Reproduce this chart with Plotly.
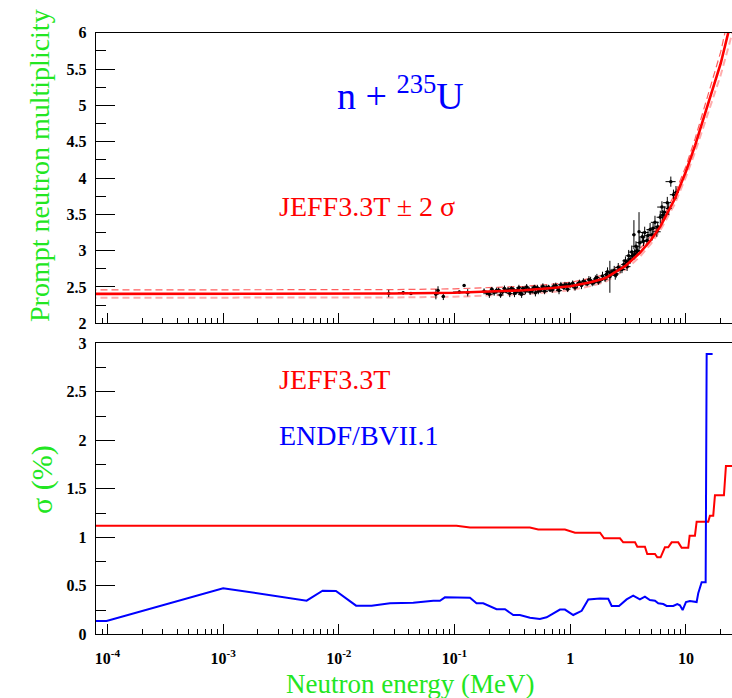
import numpy as np
import plotly.graph_objects as go

# ---------------- data ----------------
# JEFF3.3T prompt neutron multiplicity nu_p(E), E in MeV
nu_energy = [7e-5, 1e-3, 1e-2, 0.03, 0.1, 0.2, 0.4, 0.7, 1.0, 1.5, 2.0, 3.0, 4.0,
             5.0, 6.0, 8.0, 10.0, 12.0, 14.0, 17.0, 20.0, 23.2, 26.0]
nu_value = [2.405, 2.405, 2.407, 2.41, 2.42, 2.435, 2.455, 2.485, 2.51, 2.565, 2.62,
            2.79, 2.97, 3.15, 3.33, 3.71, 4.09, 4.45, 4.79, 5.22, 5.58, 6.0, 6.3]

# relative uncertainty of nu_p (%), JEFF3.3T
jeff_sig_energy = [7e-5, 0.104, 0.136, 0.448, 0.529, 0.90, 1.10, 1.81, 1.96, 2.69, 2.87,
                   3.63, 3.80, 4.42, 4.63, 5.40, 5.65, 6.04, 6.58, 7.03, 7.52, 8.58,
                   9.18, 10.47, 10.76, 11.96, 12.37, 15.59, 16.11, 17.21, 17.81, 21.30,
                   22.16, 30.0]
jeff_sig_value = [1.12, 1.12, 1.10, 1.10, 1.08, 1.08, 1.047, 1.047, 0.99, 0.99, 0.948,
                  0.948, 0.903, 0.903, 0.828, 0.828, 0.794, 0.794, 0.897, 0.897, 0.948,
                  0.948, 0.893, 0.893, 1.017, 1.017, 1.161, 1.161, 1.223, 1.223, 1.433,
                  1.433, 1.735, 1.735]

# relative uncertainty of nu_p (%), ENDF/B-VII.1
endf_sig_energy = [7.9e-5, 9.84e-5, 1.0e-3, 5.27e-3, 7.24e-3, 9.44e-3, 0.0141, 0.0192,
                   0.0277, 0.044, 0.0655, 0.0748, 0.0826, 0.136, 0.155, 0.177, 0.231,
                   0.273, 0.322, 0.367, 0.449, 0.547, 0.625, 0.815, 0.90, 1.062, 1.256,
                   1.432, 1.806, 2.13, 2.28, 2.64, 3.07, 3.50, 4.00, 4.42, 4.88, 5.40,
                   5.76, 6.37, 6.81, 7.77, 8.41, 8.87, 9.36, 10.0, 10.83, 12.37, 12.77,
                   13.67, 14.80, 15.10, 17.0]
endf_sig_value = [0.137, 0.137, 0.475, 0.347, 0.450, 0.446, 0.295, 0.295, 0.32, 0.326,
                  0.346, 0.346, 0.381, 0.377, 0.32, 0.32, 0.258, 0.258, 0.199, 0.199,
                  0.171, 0.158, 0.175, 0.255, 0.255, 0.199, 0.242, 0.36, 0.37, 0.367,
                  0.292, 0.292, 0.36, 0.398, 0.36, 0.388, 0.354, 0.346, 0.32, 0.312,
                  0.292, 0.292, 0.312, 0.299, 0.25, 0.333, 0.343, 0.333, 0.423, 0.536,
                  0.536, 2.89, 2.89]

# experimental nu_p: energy (MeV), value, abs. error, relative energy half-width
exp_energy = [0.027, 0.036, 0.042, 0.069, 0.072, 0.080, 0.11, 0.121, 0.13,
              0.18, 0.20, 0.21, 0.22, 0.24, 0.25, 0.27, 0.28, 0.30, 0.32, 0.34, 0.36,
              0.38, 0.40, 0.42, 0.45, 0.48, 0.50, 0.52, 0.55, 0.58, 0.60, 0.65, 0.70,
              0.75, 0.80, 0.85, 0.90, 0.95, 1.0, 1.05, 1.1, 1.2, 1.25, 1.3, 1.4, 1.5,
              1.6, 1.7, 1.8, 1.9, 2.0, 2.1, 2.2, 2.3, 2.4, 2.5, 2.6, 2.8, 2.9, 3.0,
              3.1, 3.2, 3.3, 3.4, 3.55, 3.6, 3.7, 3.8, 3.93, 4.0, 4.2, 4.4, 4.6, 4.9,
              5.1, 5.4, 5.7, 6.0, 6.2, 6.3, 6.9, 7.4, 7.8, 8.2,
              0.19, 0.23, 0.26, 0.29, 0.31, 0.33, 0.35, 0.37, 0.39, 0.41, 0.44, 0.47,
              0.49, 0.53, 0.57, 0.62, 0.67, 0.72, 0.78, 0.83, 0.88, 0.93, 0.98, 1.15,
              1.35, 1.45, 1.55, 1.65, 1.75, 2.05, 2.25, 2.45, 2.7, 3.15, 3.45, 3.75,
              4.3, 4.7, 5.2, 5.6, 6.5, 7.1]
exp_nu = [2.41, 2.42, 2.41, 2.40, 2.45, 2.37, 2.43, 2.52, 2.42,
          2.44, 2.40, 2.47, 2.42, 2.46, 2.39, 2.48, 2.44, 2.41, 2.47, 2.43, 2.49,
          2.40, 2.47, 2.50, 2.43, 2.48, 2.42, 2.49, 2.45, 2.51, 2.44, 2.50, 2.46,
          2.52, 2.45, 2.51, 2.53, 2.47, 2.52, 2.55, 2.49, 2.56, 2.52, 2.58, 2.54,
          2.59, 2.56, 2.63, 2.59, 2.65, 2.61, 2.71, 2.64, 2.70, 2.73, 2.68, 2.77,
          2.74, 2.81, 2.86, 2.78, 2.93, 2.88, 2.98, 3.22, 2.95, 3.06, 3.00, 3.26,
          3.11, 3.19, 3.25, 3.14, 3.29, 3.22, 3.39, 3.33, 3.46, 3.60, 3.49, 3.66,
          3.95, 3.77, 3.80,
          2.42, 2.45, 2.43, 2.46, 2.48, 2.41, 2.46, 2.42, 2.48, 2.44, 2.47, 2.45,
          2.50, 2.44, 2.48, 2.49, 2.46, 2.51, 2.48, 2.53, 2.49, 2.52, 2.54, 2.53,
          2.56, 2.60, 2.55, 2.61, 2.57, 2.67, 2.69, 2.66, 2.74, 2.84, 2.93, 2.99,
          3.13, 3.21, 3.31, 3.26, 3.53, 3.58]
exp_dnu = [0.05, 0.02, 0.02, 0.07, 0.06, 0.05, 0.02, 0.02, 0.05,
           0.04, 0.05, 0.03, 0.04, 0.03, 0.04, 0.04, 0.03, 0.05, 0.03, 0.04, 0.04,
           0.05, 0.03, 0.04, 0.04, 0.03, 0.05, 0.04, 0.03, 0.04, 0.04, 0.03, 0.04,
           0.04, 0.05, 0.03, 0.04, 0.04, 0.03, 0.04, 0.04, 0.04, 0.05, 0.04, 0.03,
           0.05, 0.04, 0.05, 0.04, 0.06, 0.04, 0.06, 0.22, 0.05, 0.06, 0.05, 0.06,
           0.05, 0.07, 0.06, 0.06, 0.08, 0.06, 0.09, 0.20, 0.07, 0.07, 0.06, 0.27,
           0.08, 0.07, 0.08, 0.07, 0.09, 0.08, 0.09, 0.07, 0.09, 0.08, 0.07, 0.08,
           0.07, 0.07, 0.09,
           0.03, 0.04, 0.03, 0.04, 0.03, 0.05, 0.03, 0.04, 0.03, 0.04, 0.03, 0.04,
           0.03, 0.04, 0.03, 0.04, 0.03, 0.04, 0.03, 0.04, 0.03, 0.04, 0.03, 0.04,
           0.04, 0.05, 0.04, 0.05, 0.04, 0.05, 0.05, 0.06, 0.05, 0.06, 0.07, 0.06,
           0.07, 0.07, 0.08, 0.07, 0.08, 0.09]
exp_de_rel = [0.02, 0.10, 0.03, 0.03, 0.03, 0.03, 0.12, 0.02, 0.05,
              0.05, 0.07, 0.04, 0.09, 0.05, 0.06, 0.04, 0.07, 0.05, 0.04, 0.06, 0.05,
              0.07, 0.04, 0.05, 0.06, 0.04, 0.05, 0.06, 0.04, 0.05, 0.07, 0.04, 0.05,
              0.04, 0.06, 0.05, 0.04, 0.06, 0.05, 0.04, 0.06, 0.05, 0.04, 0.06, 0.05,
              0.04, 0.06, 0.05, 0.07, 0.04, 0.06, 0.05, 0.03, 0.06, 0.07, 0.05, 0.06,
              0.07, 0.05, 0.06, 0.07, 0.06, 0.05, 0.07, 0.03, 0.06, 0.07, 0.06, 0.02,
              0.07, 0.06, 0.08, 0.07, 0.07, 0.06, 0.08, 0.06, 0.07, 0.09, 0.07, 0.08,
              0.10, 0.07, 0.06,
              0.06, 0.04, 0.07, 0.05, 0.06, 0.04, 0.05, 0.07, 0.04, 0.06, 0.05, 0.04,
              0.06, 0.05, 0.07, 0.04, 0.06, 0.05, 0.04, 0.06, 0.05, 0.07, 0.04, 0.06,
              0.05, 0.04, 0.06, 0.05, 0.07, 0.05, 0.06, 0.05, 0.07, 0.06, 0.05, 0.07,
              0.06, 0.07, 0.06, 0.08, 0.07, 0.06]

x_tickvals = [1e-4, 1e-3, 1e-2, 1e-1, 1, 10]
x_ticktext = ["10<sup>-4</sup>", "10<sup>-3</sup>", "10<sup>-2</sup>",
              "10<sup>-1</sup>", "1", "10"]
top_yticks = [2, 2.5, 3, 3.5, 4, 4.5, 5, 5.5, 6]
bot_yticks = [0, 0.5, 1, 1.5, 2, 2.5, 3]

# ---------------- styling ----------------
W, H = 732, 698
RED, BLUE, GREEN = "#ff0000", "#0000ff", "#22e622"
SERIF = "'Liberation Serif', 'Times New Roman', Times, serif"
x_left = 95.6 / W
top_dom = [1 - 323.3 / H, 1 - 32.7 / H]
bot_dom = [1 - 634.3 / H, 1 - 343.3 / H]
x_range = [-4.102, 1.398]
minor_x = [k * 10.0 ** n for n in range(-5, 2) for k in range(2, 10)]
minor_x = [v for v in minor_x if 10 ** x_range[0] < v < 10 ** x_range[1]]

# +-2 sigma band around the evaluation, using the JEFF uncertainty curve
sig_on_nu = np.interp(np.log10(nu_energy), np.log10(jeff_sig_energy), jeff_sig_value)
nu_arr = np.array(nu_value)
nu_hi = nu_arr * (1 + 2 * sig_on_nu / 100)
nu_lo = nu_arr * (1 - 2 * sig_on_nu / 100)

fig = go.Figure()

# top panel
fig.add_trace(go.Scatter(x=nu_energy, y=nu_lo, mode="lines",
                         line=dict(color="rgba(255,70,70,0.45)", width=2, dash="7px,4px"),
                         xaxis="x", yaxis="y", showlegend=False))
fig.add_trace(go.Scatter(x=nu_energy, y=nu_hi, mode="lines",
                         line=dict(color="rgba(255,40,40,0.75)", width=1.2, dash="7px,4px"),
                         xaxis="x", yaxis="y", showlegend=False))
exp_dx = [e * r for e, r in zip(exp_energy, exp_de_rel)]
fig.add_trace(go.Scatter(x=exp_energy, y=exp_nu, mode="markers",
                         marker=dict(color="black", size=3.5),
                         error_y=dict(type="data", array=exp_dnu, color="black",
                                      thickness=1, width=0),
                         error_x=dict(type="data", array=exp_dx, color="black",
                                      thickness=1, width=0),
                         xaxis="x", yaxis="y", showlegend=False))
fig.add_trace(go.Scatter(x=nu_energy, y=nu_value, mode="lines",
                         line=dict(color=RED, width=2.6),
                         xaxis="x", yaxis="y", showlegend=False))

# bottom panel
fig.add_trace(go.Scatter(x=jeff_sig_energy, y=jeff_sig_value, mode="lines",
                         line=dict(color=RED, width=2),
                         xaxis="x2", yaxis="y2", showlegend=False))
fig.add_trace(go.Scatter(x=endf_sig_energy, y=endf_sig_value, mode="lines",
                         line=dict(color=BLUE, width=2),
                         xaxis="x2", yaxis="y2", showlegend=False))

tickfont = dict(family=SERIF, size=16, color="black", weight="bold")
xcommon = dict(type="log", range=x_range, domain=[x_left, 1],
               tickmode="array", tickvals=x_tickvals, ticktext=x_ticktext,
               ticks="inside", ticklen=10, tickwidth=1, tickcolor="black",
               minor=dict(tickmode="array", tickvals=minor_x, ticks="inside",
                          ticklen=5, tickwidth=1, tickcolor="black", showgrid=False),
               showline=True, linecolor="black", linewidth=1, mirror=True,
               showgrid=False, zeroline=False, automargin=False, tickfont=tickfont)
ycommon = dict(ticks="inside", ticklen=19, tickwidth=1, tickcolor="black",
               minor=dict(dtick=0.25, ticks="inside", ticklen=10, tickwidth=1,
                          tickcolor="black", showgrid=False),
               showline=True, linecolor="black", linewidth=1,
               showgrid=False, zeroline=False, automargin=False,
               tickfont=tickfont, ticklabelstandoff=5)

fig.update_layout(
    width=W, height=H,
    margin=dict(l=0, r=0, t=0, b=0),
    paper_bgcolor="white", plot_bgcolor="white",
    font=dict(family=SERIF),
    xaxis=dict(xcommon, anchor="y", showticklabels=False),
    yaxis=dict(ycommon, domain=top_dom, range=[2, 6], anchor="x",
               tickmode="array", tickvals=top_yticks,
               ticktext=[f"{v:g}" for v in top_yticks]),
    xaxis2=dict(xcommon, anchor="y2", ticklabelstandoff=9),
    yaxis2=dict(ycommon, domain=bot_dom, range=[0, 3], anchor="x2",
                tickmode="array", tickvals=bot_yticks,
                ticktext=[f"{v:g}" for v in bot_yticks]),
)

annos = [
    dict(text="n + <sup>235</sup>U", x=400 / W, y=1 - 93 / H,
         font=dict(family=SERIF, size=38, color=BLUE)),
    dict(text="JEFF3.3T \u00b1 2 \u03c3", x=277 / W, y=1 - 207 / H, xanchor="left",
         font=dict(family=SERIF, size=28, color=RED)),
    dict(text="JEFF3.3T", x=277 / W, y=1 - 379 / H, xanchor="left",
         font=dict(family=SERIF, size=28, color=RED)),
    dict(text="ENDF/BVII.1", x=277 / W, y=1 - 435 / H, xanchor="left",
         font=dict(family=SERIF, size=28, color=BLUE)),
    dict(text="Prompt neutron multiplicity", x=40 / W, y=1 - 166 / H, textangle=-90,
         font=dict(family=SERIF, size=28, color=GREEN)),
    dict(text="\u03c3 (%)", x=42 / W, y=1 - 480 / H, textangle=-90,
         font=dict(family=SERIF, size=30, color=GREEN)),
    dict(text="Neutron energy (MeV)", x=410 / W, y=1 - 684 / H,
         font=dict(family=SERIF, size=27, color=GREEN)),
]
for a in annos:
    a.setdefault("xanchor", "center")
    fig.add_annotation(xref="paper", yref="paper", showarrow=False, yanchor="middle", **a)

fig.write_html("out.html")
